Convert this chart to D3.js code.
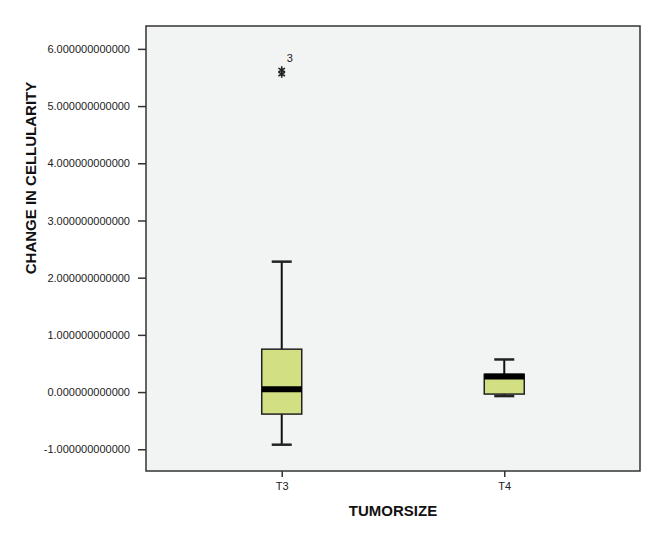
<!DOCTYPE html>
<meta charset="utf-8">
<head>
<script src="https://d3js.org/d3.v7.min.js"></script>
<style>
  body { margin: 0; background: #fff; font-family: "Liberation Sans", Arial, sans-serif; }
  .axis text { font: 11px "Liberation Sans", Arial, sans-serif; fill: #222; }
  .axis path, .axis line { stroke: #333; stroke-width: 1.5; }
  .title { font: bold 15px "Liberation Sans", Arial, sans-serif; fill: #111; }
</style>
</head>
<body>
<script>

// data
var categories = ["T3", "T4"];
var lowerWhisker = [-0.92, -0.07];
var q1 = [-0.385, -0.035];
var medians = [0.05, 0.27];
var q3 = [0.75, 0.31];
var upperWhisker = [2.28, 0.57];
var outlierValues = [5.63, 5.56];
var outlierGroup = ["T3", "T3"];
var outlierLabel = "3";
var yTicks = [-1, 0, 1, 2, 3, 4, 5, 6];

var margin = {top: 26, right: 32, bottom: 64, left: 146},
    width = 672 - margin.left - margin.right,
    height = 535 - margin.top - margin.bottom;

var svg = d3.select("body").append("svg")
    .attr("width", 672)
    .attr("height", 535);

var g = svg.append("g")
    .attr("transform", "translate(" + margin.left + "," + margin.top + ")");

var x = d3.scalePoint().domain(categories).range([0, width]).padding(0.61);
var y = d3.scaleLinear().domain([-1.38, 6.40]).range([height, 0]);

// plot background
g.append("rect")
    .attr("width", width)
    .attr("height", height)
    .attr("fill", "#f1f4f3")
    .attr("stroke", "#333")
    .attr("stroke-width", 1.5);

// axes
g.append("g")
    .attr("class", "axis")
    .call(d3.axisLeft(y).tickValues(yTicks).tickSize(8).tickPadding(8)
      .tickFormat(function(d) { return d.toFixed(12); }))
    .call(function(a) { a.select(".domain").remove(); });

g.append("g")
    .attr("class", "axis")
    .attr("transform", "translate(0," + height + ")")
    .call(d3.axisBottom(x).tickSize(6).tickPadding(5))
    .call(function(a) { a.select(".domain").remove(); });

var boxW = 40, capW = 20;

var boxes = g.selectAll(".box")
    .data(categories)
    .enter().append("g")
    .attr("class", "box");

// whiskers
boxes.append("line")
    .attr("x1", function(d) { return x(d); })
    .attr("x2", function(d) { return x(d); })
    .attr("y1", function(d, i) { return y(upperWhisker[i]); })
    .attr("y2", function(d, i) { return y(lowerWhisker[i]); })
    .attr("stroke", "#111").attr("stroke-width", 2);

boxes.append("line")
    .attr("x1", function(d) { return x(d) - capW / 2; })
    .attr("x2", function(d) { return x(d) + capW / 2; })
    .attr("y1", function(d, i) { return y(upperWhisker[i]); })
    .attr("y2", function(d, i) { return y(upperWhisker[i]); })
    .attr("stroke", "#222").attr("stroke-width", 2.5);

boxes.append("line")
    .attr("x1", function(d) { return x(d) - capW / 2; })
    .attr("x2", function(d) { return x(d) + capW / 2; })
    .attr("y1", function(d, i) { return y(lowerWhisker[i]); })
    .attr("y2", function(d, i) { return y(lowerWhisker[i]); })
    .attr("stroke", "#222").attr("stroke-width", 2.5);

// boxes
boxes.append("rect")
    .attr("x", function(d) { return x(d) - boxW / 2; })
    .attr("y", function(d, i) { return y(q3[i]); })
    .attr("width", boxW)
    .attr("height", function(d, i) { return y(q1[i]) - y(q3[i]); })
    .attr("fill", "#d2df83")
    .attr("stroke", "#222")
    .attr("stroke-width", 1.5);

// medians
boxes.append("line")
    .attr("x1", function(d) { return x(d) - boxW / 2; })
    .attr("x2", function(d) { return x(d) + boxW / 2; })
    .attr("y1", function(d, i) { return y(medians[i]); })
    .attr("y2", function(d, i) { return y(medians[i]); })
    .attr("stroke", "#000").attr("stroke-width", 6);

// extreme outliers
g.selectAll(".star")
    .data(outlierValues)
    .enter().append("path")
    .attr("class", "star")
    .attr("transform", function(d, i) { return "translate(" + x(outlierGroup[i]) + "," + y(d) + ")"; })
    .attr("d", d3.symbol().type(d3.symbolAsterisk).size(40))
    .attr("stroke", "#222")
    .attr("stroke-width", 1.6);

g.append("text")
    .attr("x", x(outlierGroup[0]) + 5)
    .attr("y", y(d3.max(outlierValues)) - 8)
    .style("font", "11px 'Liberation Sans', Arial, sans-serif")
    .attr("fill", "#222")
    .text(outlierLabel);

// axis titles
svg.append("text")
    .attr("class", "title")
    .attr("transform", "translate(36,178) rotate(-90)")
    .style("text-anchor", "middle")
    .text("CHANGE IN CELLULARITY");

svg.append("text")
    .attr("class", "title")
    .attr("x", margin.left + width / 2)
    .attr("y", 516)
    .style("text-anchor", "middle")
    .text("TUMORSIZE");

</script>
</body>
